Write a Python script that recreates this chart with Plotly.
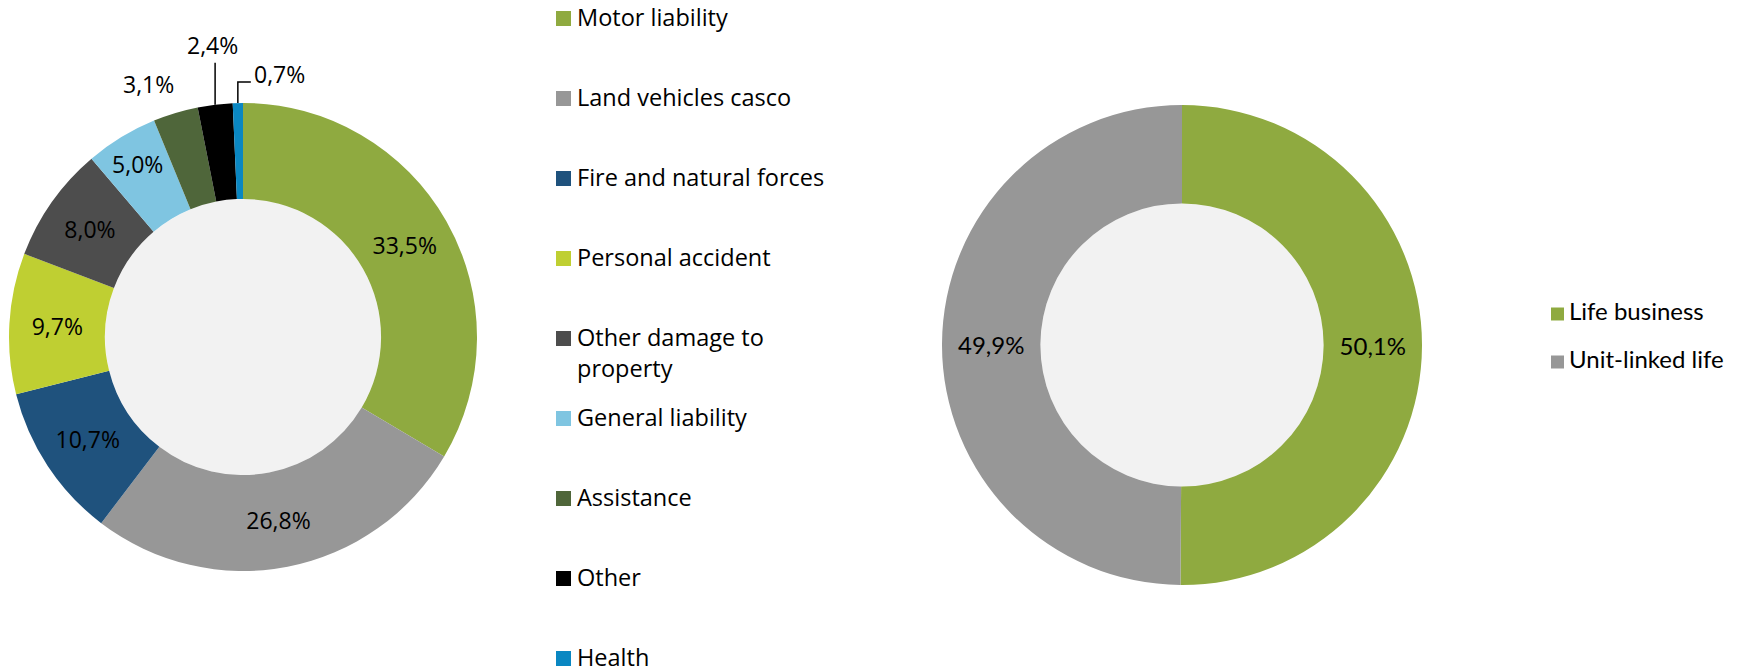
import math
import plotly.graph_objects as go

# ---- data -------------------------------------------------------------
nonlife_labels = [
    "Motor liability", "Land vehicles casco", "Fire and natural forces",
    "Personal accident", "Other damage to<br>property", "General liability",
    "Assistance", "Other", "Health",
]
nonlife_values = [33.5, 26.8, 10.7, 9.7, 8.0, 5.0, 3.1, 2.4, 0.7]
nonlife_colors = ["#8FAA40", "#979797", "#1F527D", "#BFCF32", "#4D4D4D",
                  "#7FC5E1", "#4F663A", "#000000", "#0A87C2"]
# slices whose value label sits outside the ring
nonlife_outside = ["Assistance", "Other", "Health"]

life_labels = ["Life business", "Unit-linked life"]
life_values = [50.1, 49.9]
life_colors = ["#8FAA40", "#979797"]

# ---- page geometry (pixels) ---------------------------------------------
W, H = 1750, 672
HOLE = 0.59
LEFT = dict(cx=243, cy=337, r=234)
RIGHT = dict(cx=1182, cy=345, r=240)

LEFT_FONT = "Open Sans"
RIGHT_FONT = "Lato"
LABEL_SIZE = 23


def px(x):
    return x / W


def py(y):
    return 1 - y / H


def domain(g):
    return dict(x=[px(g["cx"] - g["r"]), px(g["cx"] + g["r"])],
                y=[py(g["cy"] + g["r"]), py(g["cy"] - g["r"])])


def pct(v):
    return f"{v:.1f}".replace(".", ",") + "%"


def edge_point(values, idx, g):
    """Point on the outer rim at the middle of slice idx (clockwise from 12 o'clock)."""
    total = sum(values)
    mid = (sum(values[:idx]) + values[idx] / 2) / total * 2 * math.pi
    return g["cx"] + g["r"] * math.sin(mid), g["cy"] - g["r"] * math.cos(mid)


fig = go.Figure()

# ---- hole fills ---------------------------------------------------------
shapes = []
for g in (LEFT, RIGHT):
    rh = g["r"] * HOLE
    shapes.append(dict(type="circle", xref="paper", yref="paper", layer="below",
                       x0=px(g["cx"] - rh), x1=px(g["cx"] + rh),
                       y0=py(g["cy"] + rh), y1=py(g["cy"] - rh),
                       fillcolor="#F2F2F2", line=dict(width=0)))

# ---- non-life donut -------------------------------------------------------
nl_text = [("" if lab in nonlife_outside else pct(v))
           for lab, v in zip(nonlife_labels, nonlife_values)]
nl_pos = [("none" if lab in nonlife_outside else "inside") for lab in nonlife_labels]
fig.add_trace(go.Pie(
    labels=nonlife_labels, values=nonlife_values, text=nl_text, textinfo="text",
    textposition=nl_pos, insidetextorientation="horizontal",
    marker=dict(colors=nonlife_colors, line=dict(width=0)),
    hole=HOLE, sort=False, direction="clockwise", rotation=0,
    domain=domain(LEFT), hoverinfo="skip",
    textfont=dict(family=LEFT_FONT, size=LABEL_SIZE, color="black"),
    insidetextfont=dict(family=LEFT_FONT, size=LABEL_SIZE, color="black"),
))

# ---- life donut -------------------------------------------------------------
fig.add_trace(go.Pie(
    labels=life_labels, values=life_values, text=[pct(v) for v in life_values],
    textinfo="text", textposition="inside", insidetextorientation="horizontal",
    marker=dict(colors=life_colors, line=dict(width=0)),
    hole=HOLE, sort=False, direction="clockwise", rotation=0,
    domain=domain(RIGHT), hoverinfo="skip",
    textfont=dict(family=RIGHT_FONT, size=24, color="black"),
    insidetextfont=dict(family=RIGHT_FONT, size=24, color="black"),
))

annotations = []
line_style = dict(color="black", width=1.5)
label_font = dict(family=LEFT_FONT, size=LABEL_SIZE, color="black")

# ---- outside labels for the thin slices ------------------------------------------
i_asst = nonlife_labels.index("Assistance")
x, y = edge_point(nonlife_values, i_asst, LEFT)
annotations.append(dict(x=px(x), y=py(y), xref="paper", yref="paper", showarrow=False,
                        text=pct(nonlife_values[i_asst]), xanchor="center", yanchor="middle",
                        xshift=-27, yshift=29, font=label_font))

i_oth = nonlife_labels.index("Other")
x, y = edge_point(nonlife_values, i_oth, LEFT)
shapes.append(dict(type="line", xref="paper", yref="paper",
                   x0=px(x), y0=py(y), x1=px(x), y1=py(y - 42), line=line_style))
annotations.append(dict(x=px(x), y=py(y - 42), xref="paper", yref="paper", showarrow=False,
                        text=pct(nonlife_values[i_oth]), xanchor="center", yanchor="bottom",
                        xshift=-3, font=label_font))

i_hl = nonlife_labels.index("Health")
x, y = edge_point(nonlife_values, i_hl, LEFT)
shapes.append(dict(type="path", xref="paper", yref="paper",
                   path=f"M {px(x)} {py(y)} L {px(x)} {py(y - 21)} L {px(x + 13)} {py(y - 21)}",
                   line=line_style))
annotations.append(dict(x=px(x + 14), y=py(y - 21), xref="paper", yref="paper", showarrow=False,
                        text=pct(nonlife_values[i_hl]), xanchor="left", yanchor="middle",
                        yshift=8, font=label_font))


# ---- legends ------------------------------------------------------------------
def legend(labels, colors, x_box, box, x_text, y_first, step, font, size):
    for i, (lab, col) in enumerate(zip(labels, colors)):
        yc = y_first + i * step
        shapes.append(dict(type="rect", xref="paper", yref="paper",
                           x0=px(x_box), x1=px(x_box + box),
                           y0=py(yc + box / 2), y1=py(yc - box / 2),
                           fillcolor=col, line=dict(width=0)))
        annotations.append(dict(x=px(x_text), y=py(yc - size * 0.78), xref="paper", yref="paper",
                                showarrow=False, text=lab, xanchor="left", yanchor="top",
                                align="left", borderpad=0,
                                font=dict(family=font, size=size, color="black")))


legend(nonlife_labels, nonlife_colors, 556, 15, 576, 18.5, 80.0, LEFT_FONT, 23.5)
legend(life_labels, life_colors, 1551, 13, 1568, 314, 48, RIGHT_FONT, 24)

fig.update_layout(
    width=W, height=H, margin=dict(l=0, r=0, t=0, b=0),
    paper_bgcolor="white", plot_bgcolor="white",
    showlegend=False, separators=",.",
    uniformtext=dict(minsize=LABEL_SIZE, mode="show"),
    shapes=shapes, annotations=annotations,
)

fig.write_html("out.html")
